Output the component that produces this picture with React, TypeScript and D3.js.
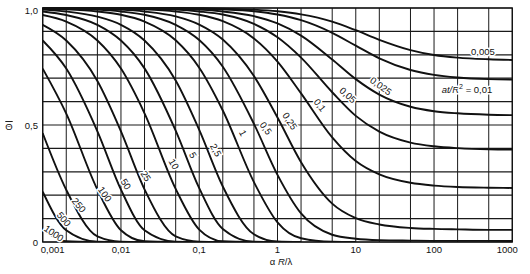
import { useRef, useEffect } from "react";
import * as d3 from "d3";

// x samples: alpha R / lambda (Biot), 1-2-5 steps per decade
const biot = [0.001, 0.002, 0.005, 0.01, 0.02, 0.05, 0.1, 0.2, 0.5, 1, 2, 5, 10, 20, 50, 100, 200, 500, 1000];

// curve parameter a t / R^2
const fourierLabels = ["1000", "500", "250", "100", "50", "25", "10", "5", "2,5", "1", "0,5", "0,25", "0,1", "0,05", "0,025", "0,01", "0,005"];

// mean temperature, one value per biot sample (0 = curve has reached the axis)
const theta1000 = [0.055, 0.003, 0];
const theta500 = [0.215, 0.05, 0.001, 0];
const theta250 = [0.465, 0.223, 0.024, 0.001, 0];
const theta100 = [0.741, 0.549, 0.224, 0.05, 0.003, 0];
const theta50 = [0.861, 0.741, 0.473, 0.224, 0.05, 0.001, 0];
const theta25 = [0.928, 0.861, 0.688, 0.473, 0.225, 0.024, 0.001, 0];
const theta10 = [0.97, 0.942, 0.861, 0.741, 0.55, 0.227, 0.053, 0.003, 0];
const theta5 = [0.985, 0.97, 0.928, 0.861, 0.742, 0.476, 0.23, 0.056, 0.001, 0];
const theta2_5 = [0.993, 0.985, 0.963, 0.928, 0.861, 0.69, 0.479, 0.237, 0.033, 0.002, 0];
const theta1 = [0.997, 0.994, 0.985, 0.971, 0.942, 0.862, 0.745, 0.562, 0.256, 0.084, 0.016, 0.001, 0];
const theta0_5 = [0.999, 0.997, 0.993, 0.985, 0.971, 0.928, 0.863, 0.749, 0.505, 0.287, 0.122, 0.031, 0.014, 0.008, 0.006, 0.005, 0.005, 0.005, 0.004];
const theta0_25 = [0.999, 0.999, 0.996, 0.993, 0.985, 0.964, 0.929, 0.865, 0.709, 0.532, 0.341, 0.164, 0.102, 0.075, 0.06, 0.056, 0.054, 0.052, 0.052];
const theta0_1 = [1, 0.999, 0.999, 0.997, 0.994, 0.985, 0.971, 0.944, 0.87, 0.771, 0.635, 0.447, 0.346, 0.289, 0.253, 0.241, 0.235, 0.232, 0.231];
const theta0_05 = [1, 1, 0.999, 0.999, 0.997, 0.993, 0.985, 0.972, 0.932, 0.875, 0.788, 0.64, 0.539, 0.472, 0.425, 0.409, 0.401, 0.396, 0.395];
const theta0_025 = [1, 1, 1, 0.999, 0.999, 0.996, 0.993, 0.985, 0.965, 0.934, 0.882, 0.78, 0.696, 0.63, 0.578, 0.559, 0.55, 0.544, 0.542];
const theta0_01 = [1, 1, 1, 1, 1, 0.999, 0.997, 0.994, 0.986, 0.972, 0.948, 0.894, 0.839, 0.785, 0.735, 0.714, 0.703, 0.696, 0.694];
const theta0_005 = [1, 1, 1, 1, 1, 1, 0.999, 0.997, 0.993, 0.986, 0.973, 0.942, 0.905, 0.864, 0.82, 0.799, 0.788, 0.781, 0.778];

const curves = [
  theta1000, theta500, theta250, theta100, theta50, theta25, theta10, theta5, theta2_5,
  theta1, theta0_5, theta0_25, theta0_1, theta0_05, theta0_025, theta0_01, theta0_005,
];

const xTicks = [0.001, 0.01, 0.1, 1, 10, 100, 1000];
const xTickLabels = ["0,001", "0,01", "0,1", "1", "10", "100", "1000"];
const yTicks = [1, 0.5, 0];
const yTickLabels = ["1,0", "0,5", "0"];

// where each curve label sits (in chart units) and its slant
const labelSpots = [
  [0.00139, 0.038, 35], [0.00187, 0.098, 50], [0.00291, 0.158, 50], [0.00625, 0.205, 55],
  [0.0116, 0.248, 57], [0.0209, 0.282, 58], [0.0476, 0.333, 60], [0.0832, 0.372, 60],
  [0.1636, 0.393, 63], [0.362, 0.466, 62], [0.713, 0.487, 55], [1.445, 0.517, 56],
  [3.49, 0.585, 52], [7.96, 0.628, 42], [21.0, 0.667, 36], [263.6, 0.654, 0], [421.7, 0.812, 0],
];

const W = 530;
const H = 274;
const FONT = "'Liberation Sans', Arial, Helvetica, sans-serif";

function drawChart(svgEl: SVGSVGElement) {
  const svg = d3.select(svgEl);
  svg.selectAll("*").remove();

  const x = d3.scaleLog().domain([0.001, 1000]).range([42.7, 512.3]);
  const y = d3.scaleLinear().domain([0, 1]).range([242, 8]);

  svg.append("rect").attr("width", W).attr("height", H).attr("fill", "#fff");

  // grid
  const grid = svg.append("g").attr("stroke", "#1a1a1a").attr("stroke-width", 1);
  grid.selectAll("line.v")
    .data(biot)
    .join("line")
    .attr("x1", (d) => x(d)).attr("x2", (d) => x(d))
    .attr("y1", y(0)).attr("y2", y(1));
  grid.selectAll("line.h")
    .data(d3.range(0, 11).map((i) => i / 10))
    .join("line")
    .attr("x1", x(0.001)).attr("x2", x(1000))
    .attr("y1", (d) => y(d)).attr("y2", (d) => y(d))
    .attr("stroke-width", 1.2);

  svg.append("rect")
    .attr("x", x(0.001)).attr("y", y(1))
    .attr("width", x(1000) - x(0.001)).attr("height", y(0) - y(1))
    .attr("fill", "none").attr("stroke", "#111").attr("stroke-width", 1.3);

  svg.append("clipPath").attr("id", "plot")
    .append("rect")
    .attr("x", x(0.001)).attr("y", y(1) - 1)
    .attr("width", x(1000) - x(0.001)).attr("height", y(0) - y(1) + 1);

  const line = d3.line<[number, number]>()
    .x((d) => x(d[0]))
    .y((d) => y(d[1]))
    .curve(d3.curveMonotoneX);

  svg.append("g")
    .attr("clip-path", "url(#plot)")
    .selectAll("path")
    .data(curves)
    .join("path")
    .attr("d", (vals) => line(vals.map((v, i) => [biot[i], v] as [number, number])))
    .attr("fill", "none")
    .attr("stroke", "#111")
    .attr("stroke-width", 1.9);

  // curve labels with a white halo that breaks the lines behind them
  const labels = svg.append("g")
    .attr("font-family", FONT).attr("font-size", 9.5).attr("fill", "#111")
    .attr("stroke", "#fff").attr("stroke-width", 3).attr("paint-order", "stroke")
    .attr("text-anchor", "middle").attr("dominant-baseline", "central");

  fourierLabels.forEach((lab, i) => {
    const [b, t, r] = labelSpots[i];
    const tx = labels.append("text")
      .attr("transform", `translate(${x(b)},${y(t)}) rotate(${r})`);
    if (lab === "0,01") {
      tx.append("tspan").attr("font-style", "italic").text("at/R");
      tx.append("tspan").attr("font-size", 7).attr("dy", -3).text("2");
      tx.append("tspan").attr("dy", 3).text(" = 0,01");
    } else {
      tx.text(lab);
    }
  });

  // axes text
  const txt = svg.append("g").attr("font-family", FONT).attr("font-size", 9.5).attr("fill", "#111");
  txt.selectAll("text.x")
    .data(xTicks)
    .join("text")
    .attr("x", (d, i) => (i === 0 ? x(d) + 10 : i === xTicks.length - 1 ? x(d) - 5 : x(d)))
    .attr("y", 253)
    .attr("text-anchor", "middle")
    .text((_, i) => xTickLabels[i]);

  txt.selectAll("text.y")
    .data(yTicks)
    .join("text")
    .attr("x", 38)
    .attr("y", (d) => y(d) + (d === 1 ? 6 : 3.5))
    .attr("text-anchor", "end")
    .text((_, i) => yTickLabels[i]);

  const xt = txt.append("text").attr("x", 281).attr("y", 265).attr("text-anchor", "middle");
  xt.append("tspan").text("α ");
  xt.append("tspan").attr("font-style", "italic").text("R");
  xt.append("tspan").text("/λ");

  // y title: theta with an overbar
  txt.append("text")
    .attr("x", 9).attr("y", 130)
    .attr("text-anchor", "middle")
    .style("text-decoration", "overline")
    .text("Θ");
}

export default function App() {
  const ref = useRef<SVGSVGElement>(null);

  useEffect(() => {
    if (ref.current) drawChart(ref.current);
  }, []);

  return (
    <svg
      ref={ref}
      width={W}
      height={H}
      style={{ position: "absolute", left: 0, top: 0, display: "block" }}
    />
  );
}
